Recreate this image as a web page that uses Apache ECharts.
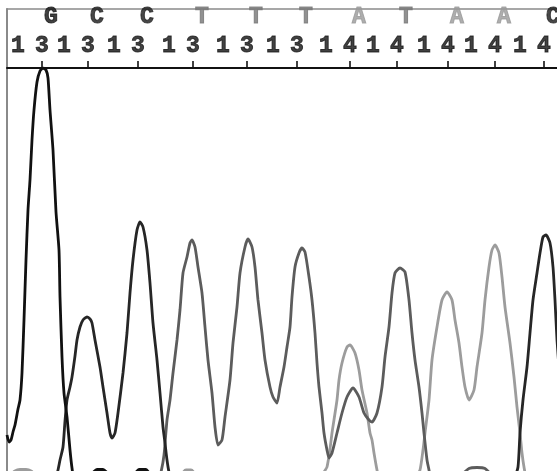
<!DOCTYPE html>
<html><head><meta charset="utf-8">
<script src="https://cdn.jsdelivr.net/npm/echarts@6/dist/echarts.min.js"></script>
<style>html,body{margin:0;padding:0;background:#fff}#c{width:557px;height:471px}</style>
</head><body><div id="c"></div>
<script>
// Base calls, their scan positions and position labels
const bases = ['G','C','C','T','T','T','A','T','A','A','C'];
const basePos = [42, 88, 138, 193, 247, 297, 350, 397, 448, 495, 544];
const posLabels = ['13','13','13','13','13','13','14','14','14','14','14'];

// Trace signal [scan, intensity]
const traceG = [[7,36],[9,29],[11,31],[13,39],[15,46],[18,62],[20,71],[22,98],[24,151],[26,211],[28,261],[30,291],[32,331],[34,361],[37,389],[40,400],[43,403],[46,401],[48,393],[50,361],[53,321],[56,259],[59,221],[60,174],[62,114],[64,78],[67,54],[70,21],[72,3],[75,-14],[85,-20],[91,-4],[97,1.5],[103,1.5],[109,-4],[118,-20],[133,-5],[139,1.5],[146,1.5],[151,-5],[160,-20],[557,-20]];
const traceC = [[7,-20],[50,-20],[56,-6],[58,1],[60,11],[63,24],[65,50],[67,71],[70,84],[72,94],[75,115],[77,131],[80,144],[83,151],[87,154],[90,152],[92,148],[95,131],[100,104],[103,84],[107,58],[110,38],[112,33],[115,38],[118,58],[123,98],[127,138],[130,178],[133,211],[137,241],[140,249],[143,244],[147,221],[150,188],[153,148],[157,111],[160,78],[163,44],[165,28],[167,11],[169,-1],[173,-14],[180,-20],[508,-20],[514,-8],[518,4],[520,38],[523,71],[527,104],[530,138],[533,171],[537,198],[540,218],[543,234],[546,236],[550,228],[553,204],[555,171],[557,131],[560,90]];
const traceT = [[7,-20],[150,-20],[158,-8],[161,-1],[164,16],[167,51],[170,71],[173,98],[177,131],[180,161],[183,198],[187,214],[190,228],[192,231],[195,224],[198,204],[202,178],[205,144],[208,111],[212,78],[215,44],[218,26],[222,31],[225,54],[230,91],[233,128],[237,164],[240,198],[245,224],[248,232],[252,224],[255,204],[258,171],[262,138],[265,111],[270,84],[273,74],[277,68],[280,84],[284,104],[287,124],[290,144],[292,174],[295,204],[299,218],[302,223],[305,219],[309,194],[312,171],[315,138],[317,108],[319,84],[322,58],[324,38],[327,21],[329,13],[332,18],[337,38],[342,58],[347,74],[353,83],[359,74],[364,58],[369,51],[372,49],[377,58],[382,84],[385,114],[389,144],[392,178],[395,198],[400,203],[405,199],[409,171],[412,138],[415,111],[419,84],[422,58],[424,38],[427,11],[429,1],[432,-14],[440,-20],[455,-20],[462,-4],[469,2.5],[477,3.5],[485,2.5],[491,-4],[498,-20],[557,-20]];
const traceA = [[7,-20],[10,-5],[15,0],[20,1.5],[26,1.5],[31,0],[36,-5],[42,-20],[175,-20],[181,-5],[186,1],[191,1],[196,-5],[202,-20],[318,-20],[322,-6],[324,-1],[327,4],[330,22],[332,38],[337,71],[339,91],[342,108],[347,124],[350,126],[355,118],[359,101],[362,81],[367,58],[370,38],[372,31],[374,18],[377,1],[380,-12],[388,-20],[410,-20],[416,-6],[420,1],[423,21],[425,38],[429,71],[432,111],[437,144],[442,171],[447,179],[452,171],[455,151],[459,128],[462,104],[465,84],[469,71],[474,81],[477,104],[482,138],[485,171],[489,204],[492,221],[495,226],[499,218],[502,194],[505,164],[510,128],[514,94],[517,64],[520,38],[522,18],[524,4],[527,-10],[535,-20],[557,-20]];

const traceColor = {G:'#111111', C:'#262626', T:'#5c5c5c', A:'#9c9c9c'};
const letterColor = {G:'#111111', C:'#1a1a1a', T:'#767676', A:'#9a9a9a'};
const X_MIN = 7, X_MAX = 557;
const LETTER_Y = 50.5, NUM_Y = 21.5, TICK_Y = 3.5;
const FONT = 'Liberation Mono';

const chart = echarts.init(document.getElementById('c'), null, {renderer:'canvas'});
function traceSeries(name, data){
  return {type:'line', name, data, xAxisIndex:0, yAxisIndex:0, showSymbol:false, symbol:'none',
    smooth:0.2, clip:true, lineStyle:{color:traceColor[name], width:2.8}, z:2};
}
const digitStyle = {fontFamily:FONT, fontWeight:'bold', fontSize:23, color:'#111',
  textBorderColor:'#111', textBorderWidth:0.9, width:24, align:'center'};
chart.setOption({
  animation:false,
  backgroundColor:'#ffffff',
  grid:[
    {left:7, right:0, top:68, bottom:0},
    {left:7, right:0, top:9, height:59}
  ],
  xAxis:[
    {type:'value', gridIndex:0, min:X_MIN, max:X_MAX, show:false},
    {type:'value', gridIndex:1, min:X_MIN, max:X_MAX, position:'bottom',
      axisLine:{show:true, onZero:false, lineStyle:{color:'#111', width:2}},
      axisTick:{show:false}, axisLabel:{show:false}, splitLine:{show:false}},
    {type:'value', gridIndex:1, min:X_MIN, max:X_MAX, position:'top',
      axisLine:{show:true, onZero:false, lineStyle:{color:'#8a8a8a', width:1.5}},
      axisTick:{show:false}, axisLabel:{show:false}, splitLine:{show:false}}
  ],
  yAxis:[
    {type:'value', gridIndex:0, min:0, max:403,
      axisLine:{show:true, onZero:false, lineStyle:{color:'#8a8a8a', width:2}},
      axisTick:{show:false}, axisLabel:{show:false}, splitLine:{show:false}},
    {type:'value', gridIndex:1, min:0, max:59,
      axisLine:{show:true, onZero:false, lineStyle:{color:'#8a8a8a', width:2}},
      axisTick:{show:false}, axisLabel:{show:false}, splitLine:{show:false}}
  ],
  series:[
    traceSeries('A', traceA),
    traceSeries('T', traceT),
    traceSeries('C', traceC),
    traceSeries('G', traceG),
    {type:'scatter', xAxisIndex:1, yAxisIndex:1, symbolSize:0, silent:true,
      data: bases.map((b,i)=>({value:[basePos[i], LETTER_Y],
        label:{show:true, formatter:b, color:letterColor[b], textBorderColor:letterColor[b]}})),
      label:{show:true, position:'inside', offset:[9,0], fontFamily:FONT,
        fontWeight:'bold', fontSize:23, textBorderWidth:1}},
    {type:'scatter', xAxisIndex:1, yAxisIndex:1, symbolSize:0, silent:true,
      data: posLabels.map((t,i)=>[basePos[i], NUM_Y, t]),
      label:{show:true, position:'inside', offset:[-12,0],
        formatter:p=>p.value[2].split('').map(ch=>'{d|'+ch+'}').join(''),
        rich:{d:digitStyle}}},
    {type:'scatter', xAxisIndex:1, yAxisIndex:1, symbol:'rect', symbolSize:[2,7], silent:true,
      itemStyle:{color:'#111'}, data: basePos.map(p=>[p, TICK_Y])}
  ]
});
</script></body></html>
